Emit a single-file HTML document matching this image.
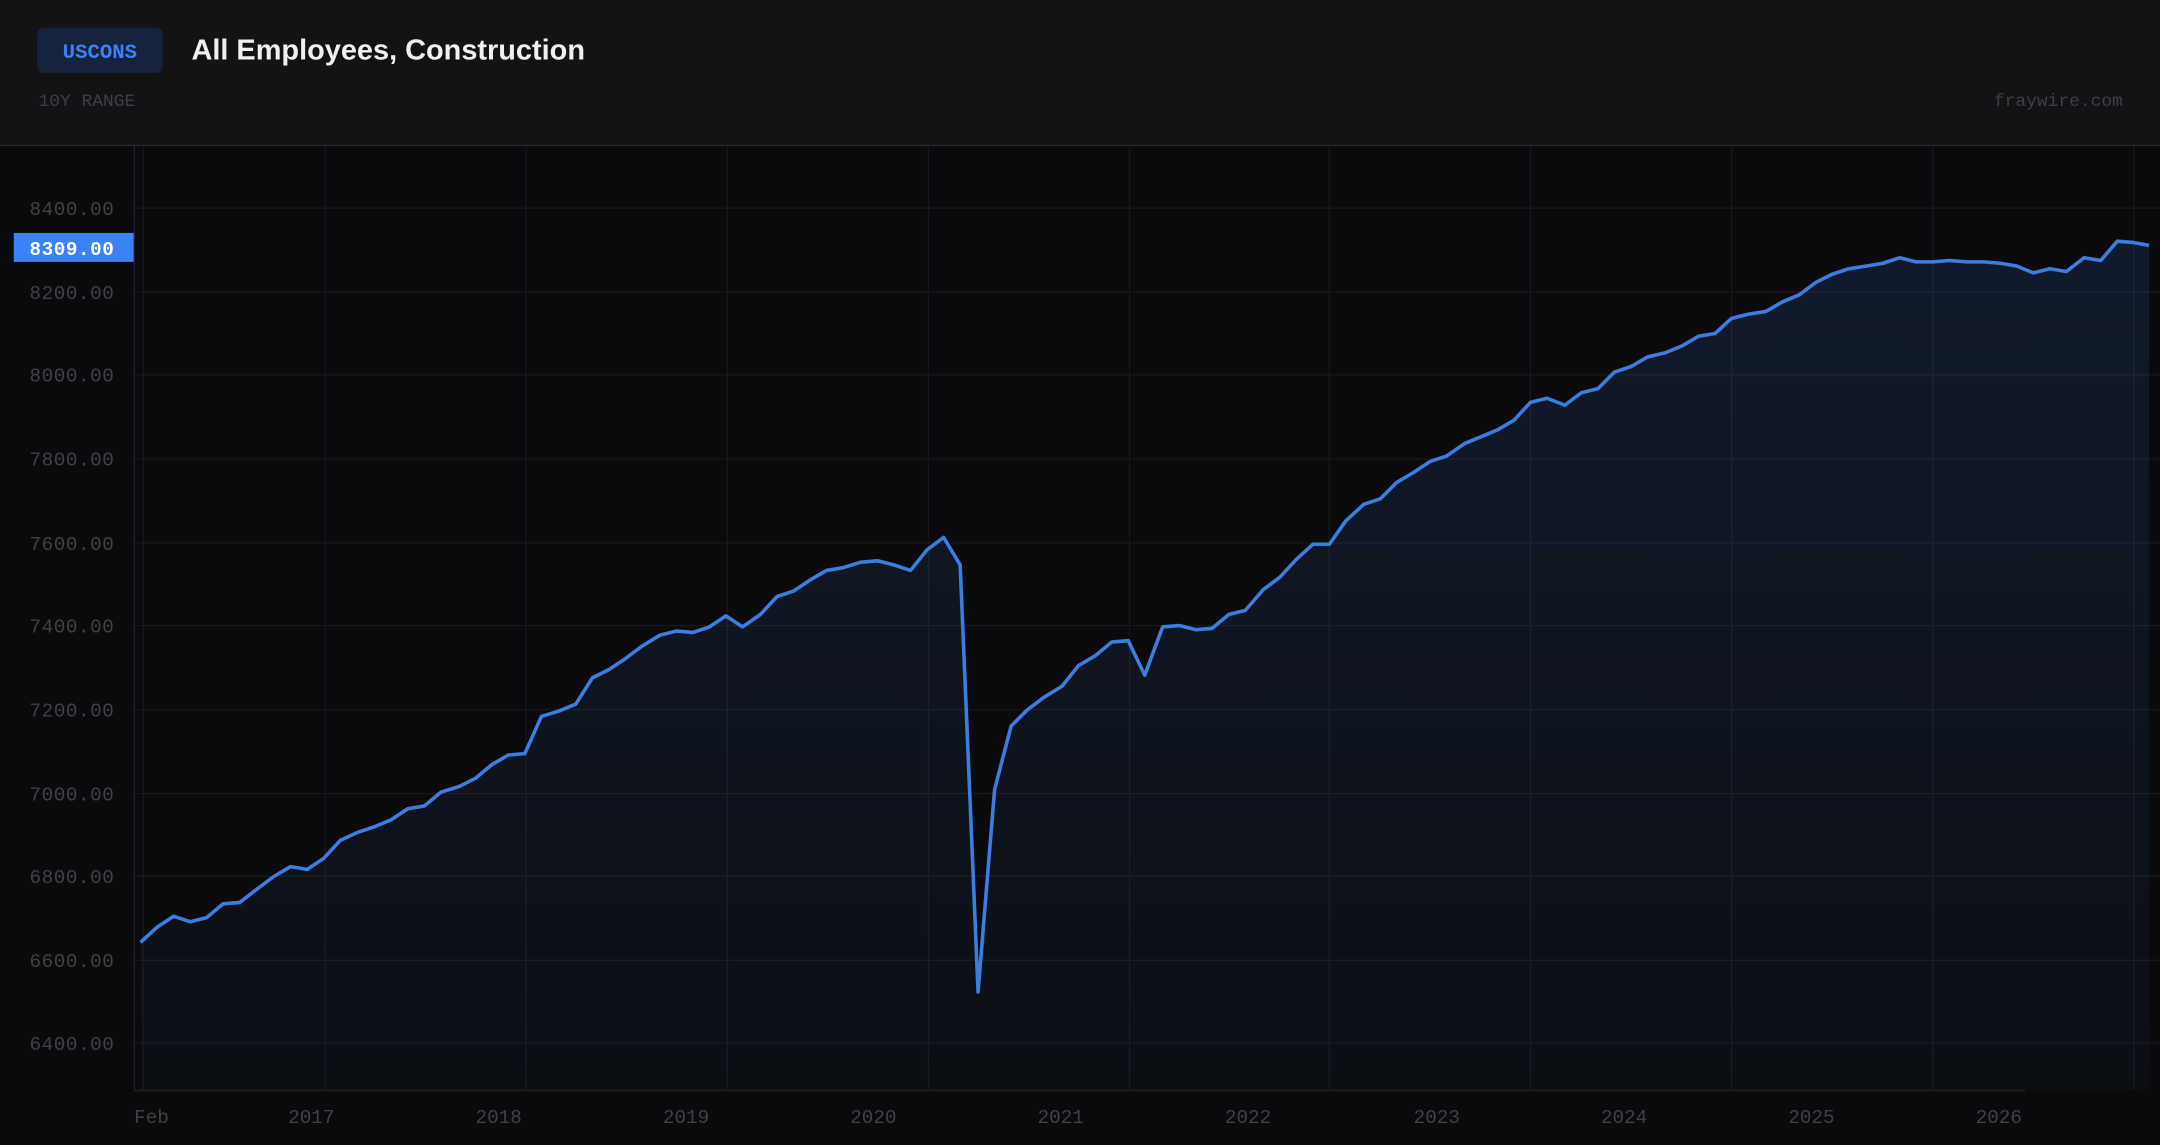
<!DOCTYPE html>
<html><head><meta charset="utf-8"><style>
html,body{margin:0;padding:0;background:#0b0b0d;width:2160px;height:1145px;overflow:hidden}
svg{display:block}
</style></head><body>
<svg width="2160" height="1145" viewBox="0 0 1568 831" xmlns="http://www.w3.org/2000/svg">
<defs>
<linearGradient id="g" x1="0" y1="0" x2="0" y2="1">
<stop offset="0" stop-color="#3b82f6" stop-opacity="0.13"/>
<stop offset="1" stop-color="#3b82f6" stop-opacity="0.03"/>
</linearGradient>
</defs>
<rect x="0" y="0" width="1568" height="831" fill="#0b0b0d"/>
<rect x="0" y="0" width="1568" height="105" fill="#131316"/>
<line x1="0" y1="105.5" x2="1568" y2="105.5" stroke="#2a2a2e" stroke-width="1"/>
<rect x="27" y="20" width="91" height="33" rx="5" fill="#16233d"/>
<text x="72.5" y="42" text-anchor="middle" font-family="Liberation Mono, monospace" font-size="15" font-weight="bold" fill="#3b82f6">USCONS</text>
<text x="139" y="43" font-family="Liberation Sans, sans-serif" font-size="21" font-weight="bold" fill="#f0f0f2">All Employees, Construction</text>
<text x="28" y="77" font-family="Liberation Mono, monospace" font-size="13" fill="#3e3e44">10Y RANGE</text>
<text x="1541" y="77" text-anchor="end" font-family="Liberation Mono, monospace" font-size="13" fill="#3e3e44">fraywire.com</text>
<g stroke="#18181c" stroke-width="1">
<line x1="97" y1="151" x2="1568" y2="151"/><line x1="97" y1="212" x2="1568" y2="212"/>
<line x1="97" y1="272" x2="1568" y2="272"/><line x1="97" y1="333" x2="1568" y2="333"/>
<line x1="97" y1="394" x2="1568" y2="394"/><line x1="97" y1="454" x2="1568" y2="454"/>
<line x1="97" y1="515" x2="1568" y2="515"/><line x1="97" y1="576" x2="1568" y2="576"/>
<line x1="97" y1="636" x2="1568" y2="636"/><line x1="97" y1="697" x2="1568" y2="697"/>
<line x1="97" y1="757" x2="1568" y2="757"/>
<line x1="104" y1="106" x2="104" y2="791"/>
<line x1="236" y1="106" x2="236" y2="791"/><line x1="382" y1="106" x2="382" y2="791"/>
<line x1="528" y1="106" x2="528" y2="791"/><line x1="674" y1="106" x2="674" y2="791"/>
<line x1="820" y1="106" x2="820" y2="791"/><line x1="965" y1="106" x2="965" y2="791"/>
<line x1="1111" y1="106" x2="1111" y2="791"/><line x1="1257" y1="106" x2="1257" y2="791"/>
<line x1="1403" y1="106" x2="1403" y2="791"/><line x1="1549" y1="106" x2="1549" y2="791"/>
</g>
<line x1="97.5" y1="106" x2="97.5" y2="791" stroke="#222227"/>
<line x1="97" y1="791.5" x2="1470" y2="791.5" stroke="#222227"/>
<polygon fill="url(#g)" points="102,791 102,684 114,673 126,665 138,669 150,666 162,656 174,655 187,645 199,636 211,629 223,631 235,623 247,610 260,604 272,600 284,595 296,587 308,585 320,575 333,571 345,565 357,555 369,548 381,547 393,520 406,516 418,511 430,492 442,486 454,478 466,469 479,461 491,458 503,459 515,455 527,447 539,455 552,446 564,433 576,429 588,421 600,414 612,412 625,408 637,407 649,410 661,414 673,399 685,390 697,410 710,720 722,573 734,527 746,515 758,506 771,498 783,483 795,476 807,466 819,465 831,490 844,455 856,454 868,457 880,456 892,446 904,443 917,428 929,419 941,406 953,395 965,395 977,378 990,366 1002,362 1014,350 1026,343 1038,335 1050,331 1063,322 1075,317 1087,312 1099,305 1111,292 1123,289 1136,294 1148,285 1160,282 1172,270 1184,266 1196,259 1209,256 1221,251 1233,244 1245,242 1257,231 1269,228 1282,226 1294,219 1306,214 1318,205 1330,199 1342,195 1355,193 1367,191 1379,187 1391,190 1403,190 1415,189 1428,190 1440,190 1452,191 1464,193 1476,198 1488,195 1500,197 1513,187 1525,189 1537,175 1549,176 1560,178 1560,791"/>
<polyline fill="none" stroke="#3b7de0" stroke-width="2.6" stroke-linejoin="round" points="102,684 114,673 126,665 138,669 150,666 162,656 174,655 187,645 199,636 211,629 223,631 235,623 247,610 260,604 272,600 284,595 296,587 308,585 320,575 333,571 345,565 357,555 369,548 381,547 393,520 406,516 418,511 430,492 442,486 454,478 466,469 479,461 491,458 503,459 515,455 527,447 539,455 552,446 564,433 576,429 588,421 600,414 612,412 625,408 637,407 649,410 661,414 673,399 685,390 697,410 710,720 722,573 734,527 746,515 758,506 771,498 783,483 795,476 807,466 819,465 831,490 844,455 856,454 868,457 880,456 892,446 904,443 917,428 929,419 941,406 953,395 965,395 977,378 990,366 1002,362 1014,350 1026,343 1038,335 1050,331 1063,322 1075,317 1087,312 1099,305 1111,292 1123,289 1136,294 1148,285 1160,282 1172,270 1184,266 1196,259 1209,256 1221,251 1233,244 1245,242 1257,231 1269,228 1282,226 1294,219 1306,214 1318,205 1330,199 1342,195 1355,193 1367,191 1379,187 1391,190 1403,190 1415,189 1428,190 1440,190 1452,191 1464,193 1476,198 1488,195 1500,197 1513,187 1525,189 1537,175 1549,176 1560,178"/>
<g font-family="Liberation Mono, monospace" font-size="14" fill="#404046" text-anchor="end" letter-spacing="0.4">
<text x="83" y="156">8400.00</text><text x="83" y="217">8200.00</text>
<text x="83" y="277">8000.00</text><text x="83" y="338">7800.00</text>
<text x="83" y="399">7600.00</text><text x="83" y="459">7400.00</text>
<text x="83" y="520">7200.00</text><text x="83" y="581">7000.00</text>
<text x="83" y="641">6800.00</text><text x="83" y="702">6600.00</text>
<text x="83" y="762">6400.00</text>
</g>
<rect x="10" y="169" width="87" height="21" fill="#3b82f6"/>
<text x="83" y="185" text-anchor="end" font-family="Liberation Mono, monospace" font-size="14" font-weight="bold" fill="#ffffff" letter-spacing="0.4">8309.00</text>
<g font-family="Liberation Mono, monospace" font-size="14" fill="#404046" text-anchor="middle">
<text x="110" y="815">Feb</text>
<text x="226" y="815">2017</text><text x="362" y="815">2018</text>
<text x="498" y="815">2019</text><text x="634" y="815">2020</text>
<text x="770" y="815">2021</text><text x="906" y="815">2022</text>
<text x="1043" y="815">2023</text><text x="1179" y="815">2024</text>
<text x="1315" y="815">2025</text><text x="1451" y="815">2026</text>
</g>
</svg>
</body></html>
